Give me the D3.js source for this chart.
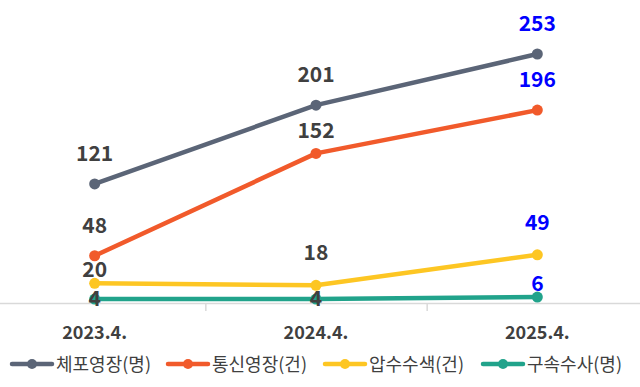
<style>body{margin:0;}</style>
<script src="https://cdn.jsdelivr.net/npm/d3@7"></script>
<svg id="chart" width="640" height="387"></svg>
<script>
var categories = ["2023.4.", "2024.4.", "2025.4."];
var seriesNames = ["체포영장(명)", "통신영장(건)", "압수수색(건)", "구속수사(명)"];
var arrestWarrant = [121, 201, 253];
var commWarrant = [48, 152, 196];
var searchSeizure = [20, 18, 49];
var detention = [4, 4, 6];
var seriesValues = [arrestWarrant, commWarrant, searchSeizure, detention];
var colors = ["#5b6577", "#f15a2b", "#fdc623", "#21a38b"];

var svg = d3.select("#chart");
var font = "'Noto Sans CJK KR', 'Noto Sans', sans-serif";

var x = d3.scaleBand().domain(categories).range([-16, 648]);
var y = d3.scaleLinear().domain([0, 253]).range([303, 54]);

// axis line and ticks
svg.append("line").attr("x1", 0).attr("x2", 640).attr("y1", 303.5).attr("y2", 303.5)
	.attr("stroke", "#d9d9d9").attr("stroke-width", 1.5);
svg.selectAll("line.tick").data(categories.slice(1)).enter().append("line")
	.attr("class", "tick")
	.attr("x1", function(d){return x(d) + 0.5;}).attr("x2", function(d){return x(d) + 0.5;})
	.attr("y1", 303).attr("y2", 311)
	.attr("stroke", "#d9d9d9").attr("stroke-width", 1.5);

svg.selectAll("text.xlab").data(categories).enter().append("text")
	.attr("class", "xlab")
	.attr("x", function(d){return x(d) + x.bandwidth()/2;})
	.attr("y", 339)
	.attr("text-anchor", "middle")
	.attr("font-family", font).attr("font-weight", "bold").attr("font-size", 18)
	.attr("fill", "#404040")
	.text(function(d){return d;});

var line = d3.line()
	.x(function(d, i){return x(categories[i]) + x.bandwidth()/2;})
	.y(function(d){return y(d);});

// label offsets above the point (per series, per category)
var labelOff = [[31, 31, 31], [31, 23, 31], [14, 33, 33], [1, 1, 14]];

seriesValues.forEach(function(vals, s) {
	svg.append("path").datum(vals).attr("d", line)
		.attr("fill", "none").attr("stroke", colors[s]).attr("stroke-width", 4.5)
		.attr("stroke-linejoin", "round");
	svg.selectAll("circle.s" + s).data(vals).enter().append("circle")
		.attr("cx", function(d, i){return x(categories[i]) + x.bandwidth()/2;})
		.attr("cy", function(d){return y(d);})
		.attr("r", 5.5).attr("fill", colors[s]);
});

seriesValues.forEach(function(vals, s) {
	svg.selectAll("text.l" + s).data(vals).enter().append("text")
		.attr("x", function(d, i){return x(categories[i]) + x.bandwidth()/2;})
		.attr("y", function(d, i){return y(d) - labelOff[s][i] + 8;})
		.attr("text-anchor", "middle")
		.attr("font-family", font).attr("font-weight", "bold").attr("font-size", 21)
		.attr("fill", function(d, i){return i === vals.length - 1 ? "#0000ff" : "#404040";})
		.text(function(d){return d;});
});

// legend
var legendX = [12, 168, 325, 483];
var lg = svg.selectAll("g.legend").data(seriesNames).enter().append("g")
	.attr("transform", function(d, i){return "translate(" + legendX[i] + ",364)";});
lg.append("line").attr("x1", 0).attr("x2", 40).attr("y1", 0).attr("y2", 0)
	.attr("stroke", function(d, i){return colors[i];}).attr("stroke-width", 4.5)
	.attr("stroke-linecap", "round");
lg.append("circle").attr("cx", 20).attr("cy", 0).attr("r", 5)
	.attr("fill", function(d, i){return colors[i];});
lg.append("text").attr("x", 44).attr("y", 6.5)
	.attr("font-family", font).attr("font-size", 18).attr("fill", "#404040")
	.text(function(d){return d;});
</script>
